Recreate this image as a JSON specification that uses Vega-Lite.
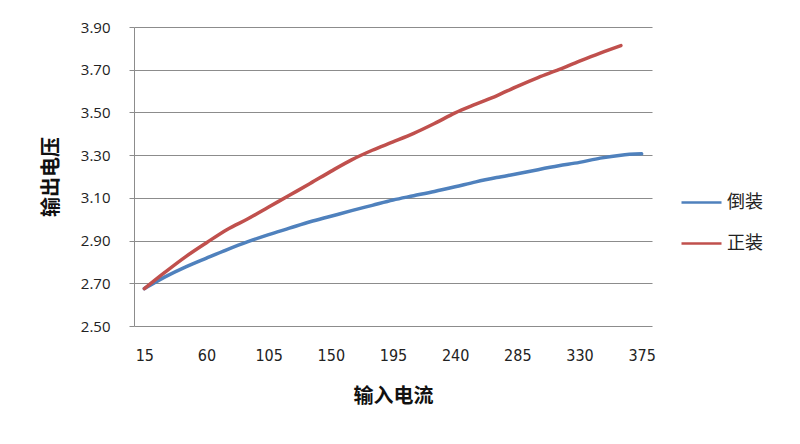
{
  "$schema": "https://vega.github.io/schema/vega-lite/v6.json",
  "width": 518,
  "height": 299,
  "autosize": "none",
  "padding": {"left": 134, "top": 27, "right": 148, "bottom": 118},
  "background": "#ffffff",
  "data": {
    "values": [
      {"current": 15, "series": "倒装", "voltage": 2.675},
      {"current": 30, "series": "倒装", "voltage": 2.73},
      {"current": 45, "series": "倒装", "voltage": 2.777},
      {"current": 60, "series": "倒装", "voltage": 2.818},
      {"current": 75, "series": "倒装", "voltage": 2.858},
      {"current": 90, "series": "倒装", "voltage": 2.895},
      {"current": 105, "series": "倒装", "voltage": 2.928},
      {"current": 120, "series": "倒装", "voltage": 2.958},
      {"current": 135, "series": "倒装", "voltage": 2.988},
      {"current": 150, "series": "倒装", "voltage": 3.014},
      {"current": 165, "series": "倒装", "voltage": 3.04},
      {"current": 180, "series": "倒装", "voltage": 3.065},
      {"current": 195, "series": "倒装", "voltage": 3.09},
      {"current": 210, "series": "倒装", "voltage": 3.11},
      {"current": 225, "series": "倒装", "voltage": 3.13},
      {"current": 240, "series": "倒装", "voltage": 3.152},
      {"current": 255, "series": "倒装", "voltage": 3.175},
      {"current": 270, "series": "倒装", "voltage": 3.195},
      {"current": 285, "series": "倒装", "voltage": 3.213},
      {"current": 300, "series": "倒装", "voltage": 3.232},
      {"current": 315, "series": "倒装", "voltage": 3.25},
      {"current": 330, "series": "倒装", "voltage": 3.266},
      {"current": 345, "series": "倒装", "voltage": 3.286},
      {"current": 360, "series": "倒装", "voltage": 3.30},
      {"current": 375, "series": "倒装", "voltage": 3.306},
      {"current": 15, "series": "正装", "voltage": 2.675},
      {"current": 30, "series": "正装", "voltage": 2.752},
      {"current": 45, "series": "正装", "voltage": 2.825},
      {"current": 60, "series": "正装", "voltage": 2.89},
      {"current": 75, "series": "正装", "voltage": 2.952},
      {"current": 90, "series": "正装", "voltage": 3.002},
      {"current": 105, "series": "正装", "voltage": 3.057},
      {"current": 120, "series": "正装", "voltage": 3.112},
      {"current": 135, "series": "正装", "voltage": 3.167},
      {"current": 150, "series": "正装", "voltage": 3.224},
      {"current": 165, "series": "正装", "voltage": 3.278},
      {"current": 180, "series": "正装", "voltage": 3.323},
      {"current": 195, "series": "正装", "voltage": 3.362},
      {"current": 210, "series": "正装", "voltage": 3.402},
      {"current": 225, "series": "正装", "voltage": 3.448},
      {"current": 240, "series": "正装", "voltage": 3.498},
      {"current": 255, "series": "正装", "voltage": 3.539},
      {"current": 270, "series": "正装", "voltage": 3.578},
      {"current": 285, "series": "正装", "voltage": 3.622},
      {"current": 300, "series": "正装", "voltage": 3.663},
      {"current": 315, "series": "正装", "voltage": 3.70},
      {"current": 330, "series": "正装", "voltage": 3.74},
      {"current": 345, "series": "正装", "voltage": 3.778},
      {"current": 360, "series": "正装", "voltage": 3.813}
    ]
  },
  "mark": {"type": "line", "strokeWidth": 3.5, "strokeCap": "round", "interpolate": "monotone"},
  "encoding": {
    "x": {
      "field": "current",
      "type": "ordinal",
      "title": "输入电流",
      "scale": {"type": "point", "padding": 0.5},
      "axis": {
        "values": [15, 60, 105, 150, 195, 240, 285, 330, 375],
        "labelAngle": 0,
        "ticks": false,
        "grid": false,
        "domain": false,
        "labelFont": "DejaVu Sans Condensed",
        "labelFontSize": 16,
        "labelColor": "#222222",
        "labelPadding": 21,
        "titleFont": "Noto Sans CJK SC",
        "titleFontSize": 20,
        "titleFontWeight": "bold",
        "titleColor": "#111111",
        "titlePadding": 23
      }
    },
    "y": {
      "field": "voltage",
      "type": "quantitative",
      "title": "输出电压",
      "scale": {"domain": [2.5, 3.9], "nice": false, "zero": false},
      "axis": {
        "values": [2.5, 2.7, 2.9, 3.1, 3.3, 3.5, 3.7, 3.9],
        "format": ".2f",
        "domainColor": "#8c8c8c",
        "tickColor": "#8c8c8c",
        "tickSize": 5,
        "gridColor": "#8c8c8c",
        "gridWidth": 1.2,
        "labelFont": "Open Sans",
        "labelFontSize": 15,
        "labelColor": "#222222",
        "labelPadding": 19,
        "titleFont": "Noto Sans CJK SC",
        "titleFontSize": 20,
        "titleFontWeight": "bold",
        "titleColor": "#111111",
        "titlePadding": 19
      }
    },
    "color": {
      "field": "series",
      "type": "nominal",
      "scale": {"domain": ["倒装", "正装"], "range": ["#4f81bd", "#c0504d"]},
      "legend": {
        "title": null,
        "orient": "none",
        "legendX": 546,
        "legendY": 154,
        "symbolType": "stroke",
        "symbolSize": 1600,
        "symbolStrokeWidth": 2.5,
        "labelFont": "Noto Sans CJK SC",
        "labelFontSize": 18,
        "labelColor": "#222222",
        "labelOffset": 4,
        "rowPadding": 10
      }
    }
  },
  "config": {
    "view": {"stroke": null}
  }
}
